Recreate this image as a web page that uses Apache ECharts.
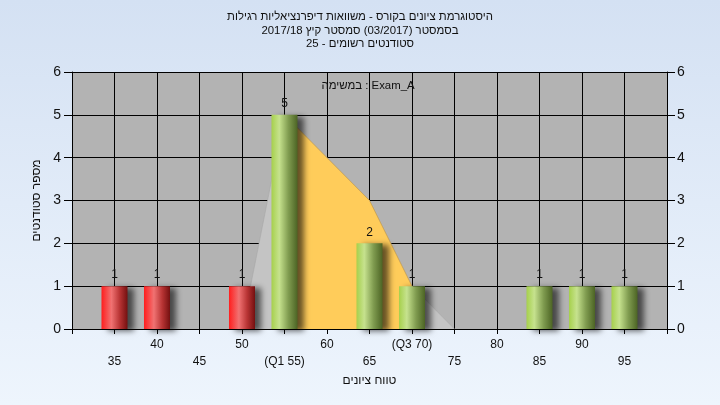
<!DOCTYPE html>
<html><head><meta charset="utf-8">
<script src="https://cdn.jsdelivr.net/npm/echarts@6/dist/echarts.min.js"></script>
<style>html,body{margin:0;padding:0;}#c{width:720px;height:405px;}</style>
</head><body><div id="c"></div>
<script>
// ---- data ----
const titleLines = [
  'היסטוגרמת ציונים בקורס - משוואות דיפרנציאליות רגילות',
  'בסמסטר (03/2017) סמסטר קיץ 2017/18',
  'סטודנטים רשומים - 25'
];
const examLabel = 'במשימה : Exam_A';
const yAxisTitle = 'מספר סטודנטים';
const xAxisTitle = 'טווח ציונים';

const scoreBins = [35, 40, 50, 55, 65, 70, 85, 90, 95];
const studentCounts = [1, 1, 1, 5, 2, 1, 1, 1, 1];
const q1Value = 55;

const polygonX = [50, 55, 60, 65, 70, 75];
const polygonY = [0, 5, 4, 3, 1, 0];
const iqrX = [55, 60, 65, 70];
const iqrY = [5, 4, 3, 1];

const xTickValues = [35, 40, 45, 50, 55, 60, 65, 70, 75, 80, 85, 90, 95];
const xTickLabels = ['35', '40', '45', '50', '(Q1 55)', '60', '65', '(Q3 70)', '75', '80', '85', '90', '95'];
const yTickLabels = ['0', '1', '2', '3', '4', '5', '6'];

// ---- chart ----
const FONT = '"Liberation Sans", Arial, sans-serif';
const TFONT = '11.4px "Liberation Sans", Arial, sans-serif';
const G = echarts.graphic.LinearGradient;
const redGrad = new G(0, 0, 1, 0, [
  {offset: 0, color: '#ff1e1e'}, {offset: 0.38, color: '#f07272'},
  {offset: 0.7, color: '#b83434'}, {offset: 1, color: '#741010'}]);
const greenGrad = new G(0, 0, 1, 0, [
  {offset: 0, color: '#a6d04c'}, {offset: 0.3, color: '#c6e28e'},
  {offset: 0.65, color: '#809c50'}, {offset: 1, color: '#4c6424'}]);

function labelFor(v, row) {
  const i = xTickValues.indexOf(v);
  if (i < 0) return '';
  const isRow1 = v % 10 === 0;
  if ((row === 1) !== isRow1) return '';
  return xTickLabels[i];
}
const RLE = '\u202B', PDF = '\u202C';

const baseX = {type: 'value', min: 30, max: 100, interval: 5, position: 'bottom'};

const option = {
  animation: false,
  backgroundColor: new G(0, 0, 0, 1, [{offset: 0, color: '#d4e1f3'}, {offset: 1, color: '#eef5fd'}]),
  textStyle: {fontFamily: FONT},
  graphic: titleLines.map((t, i) => ({
    type: 'text', x: 360, y: 17 + i * 13.5, z: 10,
    style: {text: RLE + t + PDF, fill: '#101010', font: TFONT, align: 'center', verticalAlign: 'middle'}
  })).concat([{
    type: 'text', x: 368, y: 86, z: 10,
    style: {text: examLabel, fill: '#101010', font: TFONT, align: 'center', verticalAlign: 'middle'}
  }]),
  grid: {left: 72, right: 53, top: 72, bottom: 76, show: true, backgroundColor: '#b3b3b3', borderWidth: 0},
  xAxis: [
    Object.assign({}, baseX, {
      axisLine: {show: true, onZero: false, lineStyle: {color: '#000', width: 1}},
      axisTick: {show: true, length: 5, lineStyle: {color: '#000'}},
      splitLine: {show: true, lineStyle: {color: '#000', width: 1}},
      axisLabel: {margin: 10, fontSize: 12, color: '#111', fontFamily: FONT, formatter: v => labelFor(v, 1)},
      name: xAxisTitle, nameLocation: 'middle', nameGap: 46,
      nameTextStyle: {fontSize: 12, color: '#101010', fontFamily: FONT}
    }),
    Object.assign({}, baseX, {
      axisLine: {show: false}, axisTick: {show: false}, splitLine: {show: false},
      axisLabel: {margin: 27, fontSize: 12, color: '#111', fontFamily: FONT, formatter: v => labelFor(v, 2)}
    })
  ],
  yAxis: [{
    type: 'value', min: 0, max: 6, interval: 1, position: 'left',
    axisLine: {show: true, lineStyle: {color: '#000'}},
    axisTick: {show: true, length: 8, lineStyle: {color: '#000'}},
    splitLine: {show: true, lineStyle: {color: '#000', width: 1}},
    axisLabel: {margin: 11, fontSize: 14, color: '#111', fontFamily: FONT, formatter: v => yTickLabels[v]},
    name: yAxisTitle, nameLocation: 'middle', nameGap: 29, nameRotate: 90,
    nameTextStyle: {fontSize: 12, color: '#101010', fontFamily: FONT}
  }, {
    type: 'value', min: 0, max: 6, interval: 1, position: 'right',
    axisLine: {show: true, lineStyle: {color: '#000'}},
    axisTick: {show: true, length: 8, lineStyle: {color: '#000'}},
    splitLine: {show: false},
    axisLabel: {margin: 10, fontSize: 14, color: '#111', fontFamily: FONT, formatter: v => yTickLabels[v]}
  }],
  series: [{
    type: 'line', xAxisIndex: 0, yAxisIndex: 0, z: 1,
    data: polygonX.map((x, i) => [x, polygonY[i]]),
    symbol: 'none', lineStyle: {width: 0.6, color: '#a8a8a8'},
    areaStyle: {color: '#c4c4c4', opacity: 1}
  }, {
    type: 'line', xAxisIndex: 0, yAxisIndex: 0, z: 2,
    data: iqrX.map((x, i) => [x, iqrY[i]]),
    symbol: 'none', lineStyle: {width: 0.8, color: '#c8a050'},
    areaStyle: {color: '#ffcc5a', opacity: 1}
  }, {
    type: 'bar', xAxisIndex: 0, yAxisIndex: 0, z: 5, barWidth: 26,
    data: scoreBins.map((x, i) => [x, studentCounts[i]]),
    itemStyle: {
      color: p => (p.value[0] < q1Value ? redGrad : greenGrad),
      shadowColor: 'rgba(0,0,0,0.6)', shadowBlur: 6, shadowOffsetX: 6, shadowOffsetY: 2
    },
    label: {show: true, position: 'top', distance: 5, fontSize: 12, color: '#111', fontFamily: FONT,
      formatter: p => String(p.value[1])}
  }]
};
const chart = echarts.init(document.getElementById('c'), null, {renderer: 'canvas'});
chart.setOption(option);
</script></body></html>
